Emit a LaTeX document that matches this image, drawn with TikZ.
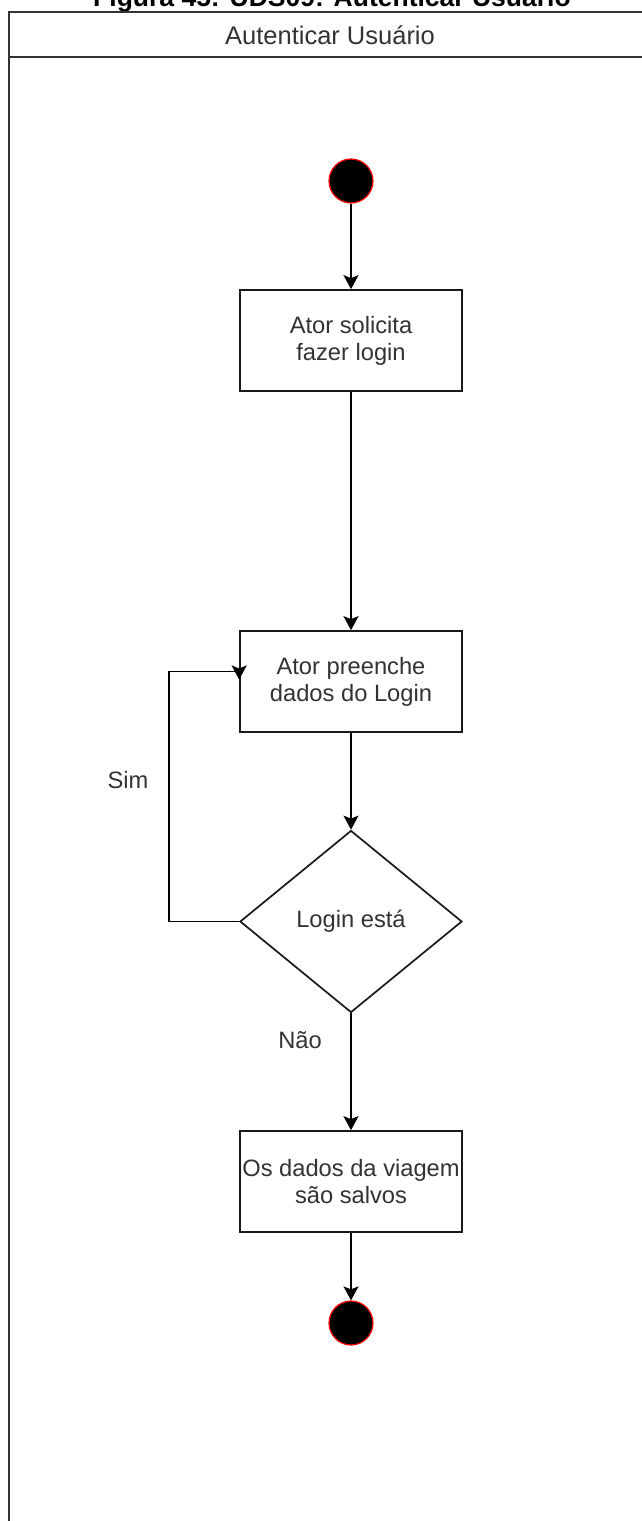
\documentclass[tikz,border=0pt]{standalone}
\usepackage{fontspec}
\setmainfont{Liberation Sans}
\usetikzlibrary{arrows.meta,shapes.geometric,calc}
\begin{document}
\begin{tikzpicture}[x=1pt,y=-1pt,
  wire/.style={line width=1.9pt, draw=black},
  flow/.style={wire, -{Stealth[length=14pt,width=15pt,inset=3pt]}},
  lane/.style={line width=2pt, draw=black!80},
  txt/.style={text=black!80, font=\fontsize{23.7}{27}\selectfont},
  actbox/.style={txt, rectangle, draw=black!90, line width=1.7pt,
    minimum width=222pt, minimum height=101pt, inner sep=0pt, align=center},
  decision/.style={txt, diamond, draw=black!90, line width=1.7pt,
    minimum width=222pt, minimum height=182pt, inner sep=0pt},
  terminal/.style={circle, fill=black, draw=red, line width=1.2pt,
    minimum size=44pt, inner sep=0pt},
  lbl/.style={txt, inner sep=0pt}
]
\useasboundingbox (0,0) rectangle (641,1521);
\fill[white] (0,0) rectangle (641,1521);

% caption, partly above the page edge
\node[anchor=base, inner sep=0pt, font=\fontsize{26.5}{30}\selectfont\bfseries]
  (caption) at (332,6) {Figura 45: UDS09: Autenticar Usuário};

% swimlane frame and header
\draw[lane] (645,11.5) -- (9,11.5) -- (9,1530);
\draw[lane] (9,57) -- (645,57);
\node[txt, font=\fontsize{25.5}{28}\selectfont] (lanetitle) at (330,35) {Autenticar Usuário};

% activity nodes
\node[terminal] (start) at (351,181) {};
\node[actbox] (a1) at (351,340.5) {Ator solicita\\fazer login};
\node[actbox] (a2) at (351,681.5) {Ator preenche\\dados do Login};
\node[decision] (dec) at (351,921.5) {Login está};
\node[actbox] (a3) at (351,1181.5) {Os dados da viagem\\são salvos};
\node[terminal] (stop) at (351,1323) {};

% connectors
\draw[flow] (start) -- (a1);
\draw[flow] (a1) -- (a2);
\draw[flow] (a2) -- (dec);
\draw[flow] (dec) -- (a3);
\draw[flow] (a3) -- (stop);
\draw[flow] (dec.west) -- ++(-70,0) |- ([yshift=10pt]a2.west)
  -- ([yshift=2pt]a2.west);

% branch labels
\node[lbl] (sim) at (128,780) {Sim};
\node[lbl] (nao) at (300,1040) {Não};
\end{tikzpicture}
\end{document}
